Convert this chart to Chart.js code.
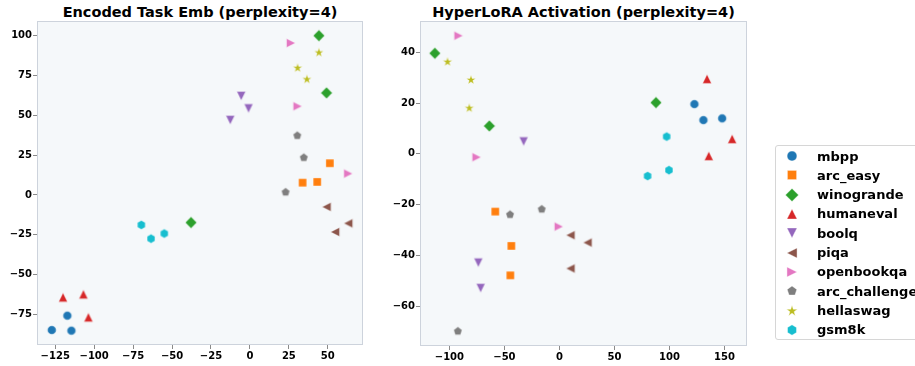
<!DOCTYPE html>
<html>
<head>
<meta charset="utf-8">
<script src="https://cdn.jsdelivr.net/npm/chart.js@4.4.1/dist/chart.umd.min.js"></script>
<style>
  html, body { margin: 0; padding: 0; background: #fff; }
  body { width: 915px; height: 366px; position: relative; overflow: hidden; font-family: 'DejaVu Sans', sans-serif; }
  .plot { position: absolute; top: 0; }
  .title { position: absolute; top: 4px; font-size: 14.5px; font-weight: bold; text-align: center; white-space: nowrap; color: #000; line-height: 17px; }
  #legend { position: absolute; left: 775px; top: 145px; width: 170px; height: 195px; border: 1px solid #d6d6d6; border-radius: 3px; box-sizing: border-box; background: #fff; }
  .row { position: absolute; left: 6px; height: 20px; display: flex; align-items: center; font-size: 13px; font-weight: bold; white-space: nowrap; color: #000; }
  .row span { margin-left: 15px; }
</style>
</head>
<body>
<div class="title" style="left:37px;width:326px;">Encoded Task Emb (perplexity=4)</div>
<div class="title" style="left:420px;width:327px;">HyperLoRA Activation (perplexity=4)</div>
<canvas id="emb" class="plot" width="372" height="366" style="left:0px"></canvas>
<canvas id="act" class="plot" width="375" height="366" style="left:380px"></canvas>
<div id="legend"></div>
<script>
// tasks, in legend order
const tasks = ['mbpp', 'arc_easy', 'winogrande', 'humaneval', 'boolq', 'piqa',
               'openbookqa', 'arc_challenge', 'hellaswag', 'gsm8k'];

// Encoded Task Emb, 3 points per task
const embX = [
  [-127.2, -117.2, -114.6],
  [51.3, 33.8, 43.2],
  [-37.8, 44.3, 49.2],
  [-120, -106.9, -103.7],
  [-5.6, -0.9, -12.6],
  [49.2, 63.1, 54.7],
  [26.3, 30.6, 63.1],
  [30.4, 34.6, 22.9],
  [44.3, 30.6, 36.6],
  [-69.7, -63.5, -55]
];
const embY = [
  [-84.7, -75.7, -85.1],
  [19.9, 7.7, 8.2],
  [-17.3, 99.9, 64],
  [-64.2, -62.3, -76.7],
  [62.1, 54.3, 47],
  [-7.5, -17.8, -23.2],
  [95.3, 55.6, 13.4],
  [37.2, 23.4, 1.7],
  [89.3, 79.6, 72.5],
  [-18.8, -27.4, -24.2]
];

// HyperLoRA Activation, 3 points per task
const actX = [
  [122.6, 130.8, 147.8],
  [-58.3, -43.7, -44.6],
  [-113.2, 87.7, -63.7],
  [134.1, 156.9, 135.7],
  [-32.5, -73.7, -71.6],
  [10, 25.5, 10],
  [-91.7, -75.3, -0.6],
  [-44.9, -16.1, -92.3],
  [-101.7, -80.4, -81.9],
  [97.4, 99.5, 80.1]
];
const actY = [
  [19.6, 13.3, 14.0],
  [-22.7, -36.2, -47.8],
  [39.6, 20.2, 11.0],
  [29.5, 5.9, -0.8],
  [4.9, -42.8, -52.8],
  [-32, -34.9, -45.1],
  [46.5, -1.3, -28.6],
  [-23.9, -21.8, -69.8],
  [36.2, 29.1, 18.0],
  [6.8, -6.4, -8.7]
];

// tick labels
const embXTicks = [-125, -100, -75, -50, -25, 0, 25, 50];
const embYTicks = [-75, -50, -25, 0, 25, 50, 75, 100];
const actXTicks = [-100, -50, 0, 50, 100, 150];
const actYTicks = [-60, -40, -20, 0, 20, 40];

const colors = ['#1f77b4', '#ff7f0e', '#2ca02c', '#d62728', '#9467bd',
                '#8c564b', '#e377c2', '#7f7f7f', '#bcbd22', '#17becf'];
const shapes = ['circle', 'square', 'diamond', 'up', 'down', 'left', 'right',
                'pentagon', 'star', 'hexagon'];

function polygon(ctx, n, r, start) {
  for (let k = 0; k < n; k++) {
    const a = start + k * 2 * Math.PI / n;
    if (k === 0) ctx.moveTo(r * Math.cos(a), r * Math.sin(a));
    else ctx.lineTo(r * Math.cos(a), r * Math.sin(a));
  }
  ctx.closePath();
}

// matplotlib-like marker drawn into a small canvas (used as pointStyle)
function marker(shape, color, scale) {
  const c = document.createElement('canvas');
  c.width = 20; c.height = 20;
  const ctx = c.getContext('2d');
  ctx.translate(10, 10);
  ctx.scale(scale, scale);
  ctx.beginPath();
  const h = 4.4;
  switch (shape) {
    case 'circle': ctx.arc(0, 0, 4.3, 0, Math.PI * 2); break;
    case 'square': ctx.rect(-4, -4, 8, 8); break;
    case 'diamond': polygon(ctx, 4, 5.7, -Math.PI / 2); break;
    case 'up': ctx.moveTo(0, -h); ctx.lineTo(h, h); ctx.lineTo(-h, h); ctx.closePath(); break;
    case 'down': ctx.moveTo(0, h); ctx.lineTo(h, -h); ctx.lineTo(-h, -h); ctx.closePath(); break;
    case 'left': ctx.moveTo(-h, 0); ctx.lineTo(h, -h); ctx.lineTo(h, h); ctx.closePath(); break;
    case 'right': ctx.moveTo(h, 0); ctx.lineTo(-h, -h); ctx.lineTo(-h, h); ctx.closePath(); break;
    case 'pentagon': polygon(ctx, 5, 4.4, -Math.PI / 2); break;
    case 'hexagon': polygon(ctx, 6, 4.5, -Math.PI / 2); break;
    case 'star': {
      const R = 5, r = R * 0.382;
      for (let k = 0; k < 10; k++) {
        const a = -Math.PI / 2 + k * Math.PI / 5;
        const rr = k % 2 ? r : R;
        if (k === 0) ctx.moveTo(rr * Math.cos(a), rr * Math.sin(a));
        else ctx.lineTo(rr * Math.cos(a), rr * Math.sin(a));
      }
      ctx.closePath();
      break;
    }
  }
  ctx.fillStyle = color;
  ctx.fill();
  ctx.lineWidth = 0.5;
  ctx.strokeStyle = 'rgba(255,255,255,0.7)';
  ctx.stroke();
  return c;
}

const markers = shapes.map((s, i) => marker(s, colors[i], 1));

const fmt = v => (v < 0 ? '\u2212' + Math.abs(v) : String(v));

// plot background + box
const framePlugin = {
  id: 'frame',
  beforeDraw(chart) {
    const a = chart.chartArea, ctx = chart.ctx;
    ctx.save();
    ctx.fillStyle = '#f5f8fa';
    ctx.fillRect(a.left, a.top, a.right - a.left, a.bottom - a.top);
    ctx.restore();
  },
  afterDraw(chart) {
    const a = chart.chartArea, ctx = chart.ctx;
    ctx.save();
    ctx.strokeStyle = '#cdd3dc';
    ctx.lineWidth = 1;
    ctx.strokeRect(a.left + 0.5, a.top + 0.5, a.right - a.left - 1, a.bottom - a.top - 1);
    ctx.restore();
  }
};

function axis(ticks, min, max, fit) {
  return {
    type: 'linear',
    min: min,
    max: max,
    afterBuildTicks: s => { s.ticks = ticks.map(v => ({ value: v })); },
    afterFit: fit,
    border: { display: false },
    grid: { drawOnChartArea: false, drawTicks: true, tickLength: 4, tickColor: '#8a8a8a', tickWidth: 1 },
    ticks: {
      font: { family: 'DejaVu Sans', size: 10, weight: 'bold' },
      color: '#000',
      padding: 1,
      maxRotation: 0,
      autoSkip: false,
      callback: v => fmt(v)
    }
  };
}

function makeChart(id, xs, ys, xTicks, yTicks, xr, yr, yAxisW, xAxisH, padRight) {
  new Chart(document.getElementById(id), {
    type: 'scatter',
    data: {
      datasets: tasks.map((t, i) => ({
        label: t,
        data: xs[i].map((x, j) => ({ x: x, y: ys[i][j] })),
        pointStyle: markers[i],
        pointRadius: 5,
        pointHoverRadius: 5,
        order: -i
      }))
    },
    options: {
      responsive: false,
      animation: false,
      devicePixelRatio: 1,
      layout: { padding: { top: 21, right: padRight, left: 0, bottom: 0 } },
      plugins: { legend: { display: false }, tooltip: { enabled: false } },
      scales: {
        x: axis(xTicks, xr[0], xr[1], s => { s.height = xAxisH; }),
        y: axis(yTicks, yr[0], yr[1], s => { s.width = yAxisW; })
      }
    },
    plugins: [framePlugin]
  });
}

makeChart('emb', embX, embY, embXTicks, embYTicks, [-136.7, 72.6], [-94.1, 109.1], 37, 21, 9);
makeChart('act', actX, actY, actXTicks, actYTicks, [-126.7, 170.4], [-75.6, 52.3], 40, 20, 8);

// legend
const legend = document.getElementById('legend');
tasks.forEach((t, i) => {
  const row = document.createElement('div');
  row.className = 'row';
  row.style.top = (10 + i * 19.33 - 10) + 'px';
  row.appendChild(marker(shapes[i], colors[i], 1.15));
  const span = document.createElement('span');
  span.textContent = t;
  row.appendChild(span);
  legend.appendChild(row);
});
</script>
</body>
</html>
